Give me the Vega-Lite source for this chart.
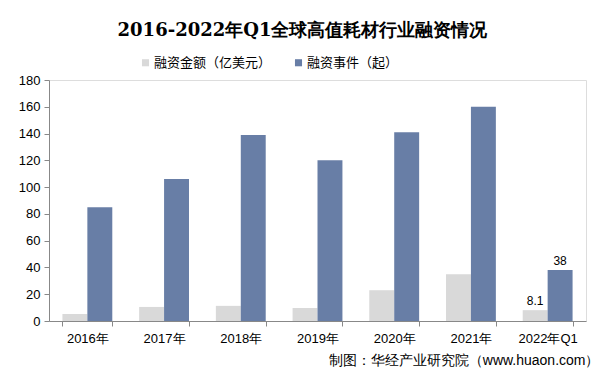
{
  "$schema": "https://vega.github.io/schema/vega-lite/v6.json",
  "width": 537,
  "height": 241,
  "autosize": {"type": "none"},
  "padding": {"left": 49, "top": 80, "right": 18, "bottom": 60},
  "background": "white",
  "title": {
    "text": "2016-2022年Q1全球高值耗材行业融资情况",
    "font": "DejaVu Serif",
    "fontSize": 18,
    "fontWeight": "bold",
    "color": "#000000",
    "anchor": "middle",
    "frame": "group",
    "dx": -15,
    "offset": 16
  },
  "data": {
    "values": [
      {"year": "2016年", "series": "融资金额（亿美元）", "value": 5.2},
      {"year": "2016年", "series": "融资事件（起）", "value": 85},
      {"year": "2017年", "series": "融资金额（亿美元）", "value": 10.5},
      {"year": "2017年", "series": "融资事件（起）", "value": 106},
      {"year": "2018年", "series": "融资金额（亿美元）", "value": 11.3},
      {"year": "2018年", "series": "融资事件（起）", "value": 139},
      {"year": "2019年", "series": "融资金额（亿美元）", "value": 9.7},
      {"year": "2019年", "series": "融资事件（起）", "value": 120},
      {"year": "2020年", "series": "融资金额（亿美元）", "value": 23},
      {"year": "2020年", "series": "融资事件（起）", "value": 141},
      {"year": "2021年", "series": "融资金额（亿美元）", "value": 35},
      {"year": "2021年", "series": "融资事件（起）", "value": 160},
      {"year": "2022年Q1", "series": "融资金额（亿美元）", "value": 8.1, "label": "8.1"},
      {"year": "2022年Q1", "series": "融资事件（起）", "value": 38, "label": "38"}
    ]
  },
  "encoding": {
    "x": {
      "field": "year",
      "type": "nominal",
      "sort": null,
      "scale": {"paddingInner": 0.35, "paddingOuter": 0.175},
      "axis": {
        "title": "制图：华经产业研究院（www.huaon.com）",
        "titleAnchor": "end",
        "titleAlign": "right",
        "titleX": 550,
        "titleFont": "Liberation Sans",
        "titleFontSize": 14,
        "titleFontWeight": "normal",
        "titleColor": "#000000",
        "titlePadding": 8,
        "labelAngle": 0,
        "labelFont": "Liberation Sans",
        "labelFontSize": 13,
        "labelColor": "#000000",
        "labelPadding": 6,
        "domainColor": "#888888",
        "tickColor": "#888888",
        "tickBand": "extent",
        "tickSize": 5
      }
    },
    "xOffset": {"field": "series", "type": "nominal", "sort": ["融资金额（亿美元）", "融资事件（起）"], "scale": {"paddingInner": 0, "paddingOuter": 0}},
    "y": {
      "field": "value",
      "type": "quantitative",
      "scale": {"domain": [0, 180]},
      "axis": {
        "title": null,
        "values": [0, 20, 40, 60, 80, 100, 120, 140, 160, 180],
        "grid": false,
        "labelFont": "Liberation Sans",
        "labelFontSize": 13,
        "labelColor": "#000000",
        "labelPadding": 4,
        "domainColor": "#888888",
        "tickColor": "#888888",
        "tickSize": 5
      }
    }
  },
  "layer": [
    {
      "mark": {"type": "bar"},
      "encoding": {
        "color": {
          "field": "series",
          "type": "nominal",
          "sort": ["融资金额（亿美元）", "融资事件（起）"],
          "scale": {"domain": ["融资金额（亿美元）", "融资事件（起）"], "range": ["#d9d9d9", "#687ea6"]},
          "legend": {
            "title": null,
            "orient": "none",
            "direction": "horizontal",
            "legendX": 90,
            "legendY": -24,
            "symbolType": "square",
            "symbolSize": 50,
            "symbolStrokeWidth": 0,
            "labelFont": "Noto Sans CJK SC",
            "labelFontSize": 13,
            "labelColor": "#000000",
            "labelOffset": 2,
            "columnPadding": 20
          }
        }
      }
    },
    {
      "transform": [{"filter": "isValid(datum.label)"}],
      "mark": {"type": "text", "dy": -9, "font": "Liberation Sans", "fontSize": 12, "color": "#000000"},
      "encoding": {
        "text": {"field": "label"}
      }
    }
  ]
}
